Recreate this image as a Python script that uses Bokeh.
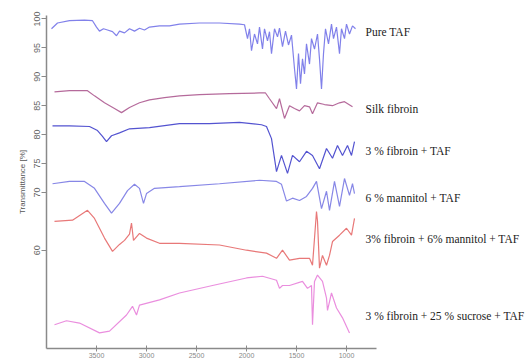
from bokeh.plotting import figure
from bokeh.models import Label, FixedTicker, Range1d
from bokeh.embed import file_html
from bokeh.resources import INLINE

# ---- data (wavenumber cm^-1, transmittance %) ----
names = ["Pure TAF", "Silk fibroin", "3 % fibroin + TAF", "6 % mannitol + TAF",
         "3%  fibroin + 6% mannitol + TAF", "3 % fibroin + 25 % sucrose + TAF"]
label_y = [97.8, 84.5, 77.1, 69.1, 61.9, 48.6]
colors = ["#6b6be6", "#a8508a", "#3535c8", "#7272e2", "#e46060", "#e67ad8"]

taf_w = [3950, 3890, 3770, 3620, 3540, 3500, 3470, 3430, 3390, 3340, 3300, 3270, 3220, 3170, 3120, 3070,
         3020, 2970, 2870, 2770, 2670, 2470, 2270, 2070, 2020, 1990, 1970, 1950, 1920, 1890, 1870, 1840,
         1820, 1790, 1770, 1750, 1720, 1690, 1670, 1640, 1610, 1580, 1550, 1520, 1500, 1480, 1460, 1440,
         1420, 1400, 1370, 1350, 1320, 1290, 1270, 1250, 1230, 1210, 1180, 1150, 1130, 1100, 1070, 1050,
         1020, 1000, 970, 940, 910]
taf_t = [98.3, 99.3, 99.7, 99.8, 99.7, 98.6, 97.9, 98.3, 98.1, 97.8, 97.1, 97.9, 97.6, 98.3, 97.9, 98.4,
         98.1, 98.6, 98.8, 98.8, 99.1, 99.3, 99.3, 99.1, 99.0, 96.6, 98.3, 94.5, 97.4, 95.7, 98.6, 94.8,
         98.3, 96.2, 97.8, 94.0, 98.3, 96.9, 98.4, 95.2, 97.9, 95.5, 97.2, 91.4, 87.9, 94.0, 88.8, 93.1,
         90.5, 95.7, 92.2, 96.6, 94.8, 97.4, 93.1, 87.9, 94.0, 98.3, 95.7, 99.1, 96.6, 98.6, 94.0, 98.3,
         96.6, 99.1, 97.4, 98.8, 98.3]

silk_w = [3920, 3770, 3590, 3520, 3420, 3320, 3250, 3170, 3070, 2970, 2820, 2670, 2470, 2170, 1870, 1810,
          1770, 1700, 1670, 1620, 1570, 1520, 1470, 1420, 1370, 1340, 1290, 1220, 1140, 1070, 1020, 940]
silk_t = [87.4, 87.6, 87.6, 86.7, 85.5, 84.5, 83.8, 84.7, 85.5, 86.0, 86.4, 86.7, 86.9, 87.1, 87.2, 87.2,
          86.2, 84.5, 86.2, 82.8, 85.0, 84.5, 84.1, 85.0, 84.8, 83.6, 85.5, 85.2, 85.0, 85.5, 85.7, 84.8]

fib_w = [3940, 3770, 3570, 3490, 3440, 3400, 3350, 3270, 3170, 2970, 2670, 2370, 2070, 1850, 1800, 1750,
         1700, 1650, 1590, 1540, 1470, 1400, 1340, 1270, 1200, 1140, 1090, 1040, 990, 950, 920]
fib_t = [81.5, 81.5, 81.4, 80.7, 79.7, 78.8, 79.8, 80.3, 81.0, 81.2, 81.9, 81.9, 82.1, 81.7, 81.4, 79.3,
         73.6, 76.4, 73.3, 76.4, 75.3, 77.1, 76.4, 74.1, 77.6, 75.9, 78.1, 76.4, 78.1, 76.4, 78.8]

man_w = [3940, 3770, 3620, 3520, 3420, 3350, 3270, 3190, 3120, 3070, 3030, 3000, 2920, 2670, 2270, 1870,
         1700, 1650, 1600, 1540, 1470, 1400, 1340, 1300, 1250, 1200, 1170, 1120, 1070, 1020, 970, 940, 920]
man_t = [71.5, 71.9, 71.9, 70.7, 68.1, 66.4, 68.1, 70.3, 71.4, 70.7, 68.1, 69.8, 70.7, 71.0, 71.5, 72.1,
         71.9, 71.4, 68.5, 69.0, 68.6, 69.3, 70.7, 71.9, 67.2, 70.2, 66.9, 71.9, 67.6, 72.4, 69.5, 71.5, 69.8]

fm_w = [3920, 3740, 3590, 3520, 3420, 3340, 3270, 3220, 3170, 3150, 3130, 3070, 3000, 2870, 2670, 2270,
        2000, 1800, 1700, 1640, 1570, 1470, 1370, 1340, 1300, 1290, 1270, 1240, 1200, 1170, 1140, 1070,
        1000, 950, 920]
fm_t = [65.0, 65.2, 66.9, 65.5, 62.1, 59.8, 61.0, 61.7, 62.8, 64.7, 61.7, 62.9, 62.1, 61.2, 61.2, 60.9,
        60.0, 59.5, 58.6, 60.0, 58.3, 58.6, 58.6, 57.4, 66.7, 65.0, 56.9, 59.1, 57.4, 59.1, 61.5, 62.6,
        63.8, 62.6, 65.5]

suc_w = [3920, 3800, 3670, 3470, 3370, 3200, 3140, 3100, 3070, 2870, 2670, 2340, 2000, 1840, 1700, 1670,
         1640, 1570, 1440, 1390, 1350, 1340, 1320, 1290, 1240, 1200, 1190, 1150, 1100, 1040, 970]
suc_t = [47.1, 47.8, 47.4, 45.7, 46.0, 48.8, 50.3, 48.8, 50.5, 51.4, 52.6, 53.9, 55.2, 55.5, 54.8, 53.4,
         53.9, 53.9, 54.6, 53.4, 53.9, 47.1, 54.6, 55.7, 54.6, 51.7, 49.6, 52.6, 50.0, 48.3, 45.7]

x_ticks = [3500, 3000, 2500, 2000, 1500, 1000]
y_ticks = [100, 95, 90, 85, 80, 75, 70, 60]
x_axis_span = (700, 4000)

series = [(taf_w, taf_t), (silk_w, silk_t), (fib_w, fib_t), (man_w, man_t), (fm_w, fm_t), (suc_w, suc_t)]

p = figure(width=530, height=360, output_backend="svg", toolbar_location=None,
           x_range=Range1d(4000, -840), y_range=Range1d(43.0, 100.6),
           min_border_left=46, min_border_right=0, min_border_top=15, min_border_bottom=5)
p.outline_line_color = None
p.grid.visible = False
p.background_fill_color = "white"
p.border_fill_color = "white"

for (w, t), c in zip(series, colors):
    p.line(w, t, line_color=c, line_width=1.2, line_alpha=0.85)

for name, ly in zip(names, label_y):
    p.add_layout(Label(x=810, y=ly, text=name, text_font="Liberation Serif", text_font_size="11.5px",
                       text_color="#222222", text_baseline="middle", text_align="left"))

p.yaxis.ticker = FixedTicker(ticks=y_ticks)
p.xaxis.ticker = FixedTicker(ticks=x_ticks)
p.xaxis.bounds = x_axis_span
p.yaxis.axis_label = "Transmittance [%]"
p.yaxis.axis_label_text_font_size = "8px"
p.yaxis.axis_label_text_font_style = "normal"
p.yaxis.axis_label_text_color = "#555555"
p.yaxis.axis_label_standoff = 4
p.yaxis.major_label_orientation = "vertical"
p.yaxis.major_label_text_font_size = "9px"
p.yaxis.major_label_text_color = "#666666"
p.yaxis.major_label_standoff = 2
p.yaxis.major_tick_out = 5
p.yaxis.major_tick_in = 0
p.yaxis.minor_tick_line_color = None
p.xaxis.major_label_text_font_size = "7px"
p.xaxis.major_label_text_color = "#888888"
p.xaxis.major_label_standoff = 1
p.xaxis.major_tick_in = 3
p.xaxis.major_tick_out = 3
p.xaxis.minor_tick_line_color = None
for ax in (p.xaxis, p.yaxis):
    ax.axis_line_color = "#8a8a8a"
    ax.axis_line_width = 1.5
    ax.major_tick_line_color = "#8a8a8a"

open("out.html", "w").write(file_html(p, INLINE))
